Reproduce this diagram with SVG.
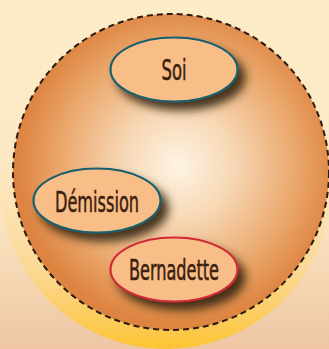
<svg xmlns="http://www.w3.org/2000/svg" width="329" height="349" viewBox="0 0 329 349">
<defs>
<linearGradient id="bg" x1="0" y1="0" x2="0" y2="1">
<stop offset="0" stop-color="#fdecc8"/>
<stop offset="0.6" stop-color="#fbe6c2"/>
<stop offset="1" stop-color="#eec6a4"/>
</linearGradient>
<linearGradient id="glow" x1="0" y1="0" x2="0" y2="1">
<stop offset="0.4" stop-color="#fde3a8" stop-opacity="0"/>
<stop offset="0.75" stop-color="#fdd98a" stop-opacity="0.7"/>
<stop offset="1" stop-color="#fdc431"/>
</linearGradient>
<radialGradient id="ball" cx="178" cy="165" r="160" gradientUnits="userSpaceOnUse">
<stop offset="0" stop-color="#fdf4e4"/>
<stop offset="0.35" stop-color="#f7d7b4"/>
<stop offset="0.75" stop-color="#eaa66a"/>
<stop offset="1" stop-color="#dd8440"/>
</radialGradient>
<filter id="sh" x="-30%" y="-30%" width="170%" height="180%">
<feDropShadow dx="7" dy="8" stdDeviation="5" flood-color="#35200f" flood-opacity="0.9"/>
</filter>
<style>
.node ellipse{fill:#f9be88;stroke-width:2.2}
.teal{stroke:#17606e}
.red{stroke:#cf2a35}
.node text{font-family:"DejaVu Sans Condensed","Liberation Sans Narrow","Liberation Sans",sans-serif;font-size:28px;fill:#3a200f;stroke:#3a200f;stroke-width:0.5;text-anchor:middle}
</style>
</defs>
<rect width="329" height="349" fill="url(#bg)"/>
<circle cx="166" cy="183" r="166" fill="url(#glow)"/>
<circle cx="171" cy="172" r="158" fill="url(#ball)" stroke="#2a1a10" stroke-width="2" stroke-dasharray="6 4"/>
<g id="soi" class="node">
<ellipse class="teal" cx="174" cy="69.5" rx="63.5" ry="32" filter="url(#sh)"/>
<text x="174" y="80" textLength="25" lengthAdjust="spacingAndGlyphs">Soi</text>
</g>
<g id="demission" class="node">
<ellipse class="teal" cx="97" cy="200.5" rx="63.5" ry="32" filter="url(#sh)"/>
<text x="97" y="211.5" textLength="84" lengthAdjust="spacingAndGlyphs">Démission</text>
</g>
<g id="bernadette" class="node">
<ellipse class="red" cx="174" cy="269.5" rx="63.5" ry="32" filter="url(#sh)"/>
<text x="174" y="280" textLength="90" lengthAdjust="spacingAndGlyphs">Bernadette</text>
</g>
</svg>
